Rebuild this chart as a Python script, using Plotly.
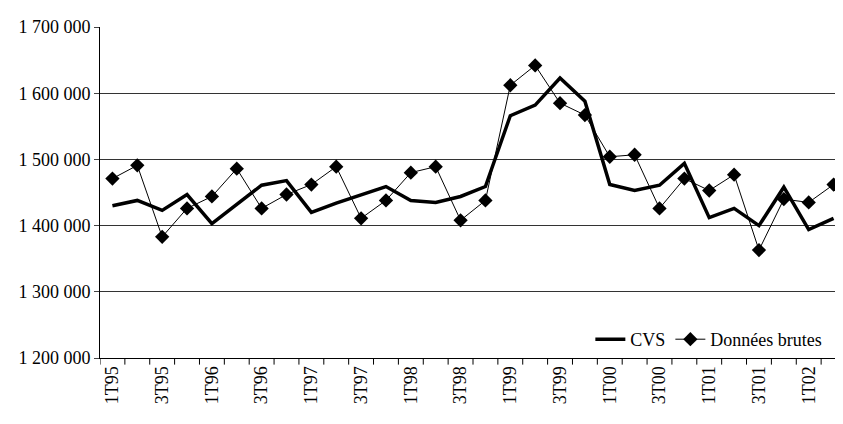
import plotly.graph_objects as go

quarters = [f"{q}T{y:02d}" for y in [95,96,97,98,99,0,1,2] for q in [1,2,3,4]][:30]
cvs = [1430,1438,1423,1447,1403,1432,1461,1468,1420,1434,1447,1459,1438,1435,1444,1459,
       1566,1582,1623,1588,1462,1453,1461,1494,1412,1426,1400,1458,1394,1411]
brutes = [1471,1491,1383,1426,1444,1486,1426,1447,1462,1489,1411,1438,1480,1489,1408,1438,
          1612,1642,1585,1567,1504,1507,1426,1471,1453,1477,1363,1440,1435,1462]
yticks = [1200000,1300000,1400000,1500000,1600000,1700000]
ylabels = ["1 200 000","1 300 000","1 400 000","1 500 000","1 600 000","1 700 000"]

x = list(range(len(quarters)))
fig = go.Figure()
fig.add_trace(go.Scatter(x=x, y=[v*1000 for v in cvs], mode="lines", name="CVS",
                         line=dict(color="black", width=3.5), cliponaxis=False))
fig.add_trace(go.Scatter(x=x, y=[v*1000 for v in brutes], mode="lines+markers", name="Données brutes",
                         line=dict(color="black", width=1), cliponaxis=False,
                         marker=dict(symbol="diamond", size=11, color="black")))
fig.update_layout(
    width=843, height=424, margin=dict(l=92, r=5, t=19, b=74, autoexpand=False),
    plot_bgcolor="white", paper_bgcolor="white",
    font=dict(family="Liberation Serif", size=18, color="black"),
    showlegend=True,
    legend=dict(orientation="h", x=0.975, xanchor="right", y=0.0, yanchor="bottom",
                bgcolor="rgba(0,0,0,0)", font=dict(size=18), traceorder="normal"),
    xaxis=dict(range=[-0.5, len(quarters)-0.5], tickmode="array", automargin=False,
               tickvals=x[::2], ticktext=quarters[::2], tickangle=-90,
               showgrid=False, showline=True, linecolor="black", ticks="",
               zeroline=False),
    yaxis=dict(range=[1200000, 1700000], tickmode="array", tickvals=yticks, ticktext=ylabels,
               automargin=False,
               showgrid=True, gridcolor="#333", gridwidth=1, showline=True, linecolor="black",
               ticks="outside", ticklen=5, zeroline=False),
)
for i in range(len(quarters)+1):
    fig.add_shape(type="line", xref="x", yref="paper", x0=i-0.5, x1=i-0.5, y0=0, y1=-0.02,
                  line=dict(color="black", width=1))
fig.write_html("out.html")
